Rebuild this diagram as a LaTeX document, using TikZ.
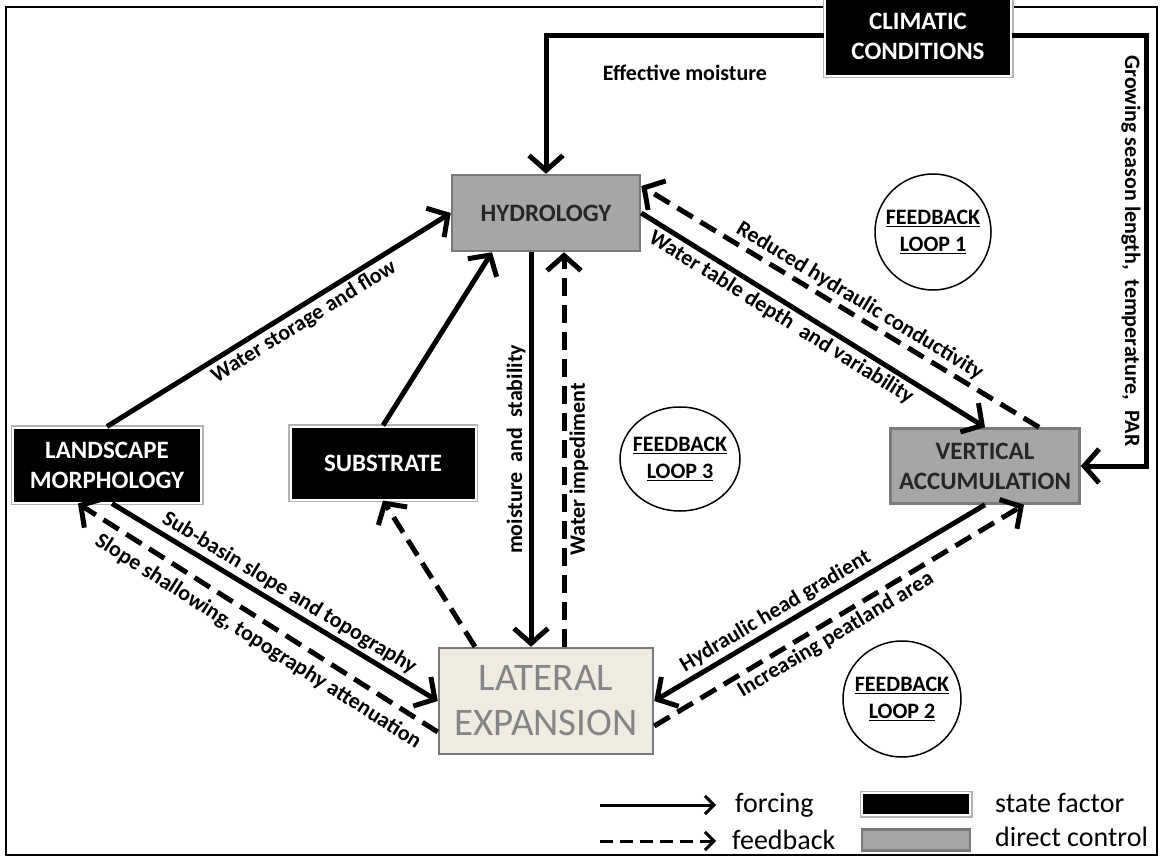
\documentclass[tikz,border=0pt]{standalone}
\usepackage{fontspec}
\setmainfont{Carlito}
\usepackage{xcolor}
\definecolor{ctrlgray}{HTML}{A6A6A6}
\definecolor{edgegray}{HTML}{7A7A7A}
\definecolor{latfill}{HTML}{EEECE1}
\definecolor{lattext}{HTML}{858585}
\usetikzlibrary{arrows.meta, positioning, calc}

\begin{document}
\begin{tikzpicture}[
    x=1pt, y=-1pt,
    >={Straight Barb[length=15pt, width=34pt]},
    lbl/.style={font=\fontsize{22}{26}\selectfont\bfseries, inner sep=3pt},
    statebox/.style={fill=black, draw=white, line width=2pt, text=white, align=center, inner sep=0pt,
                     font=\fontsize{25}{30}\selectfont\bfseries, preaction={draw=black!30, line width=5pt}},
    ctrlbox/.style={fill=ctrlgray, draw=edgegray, line width=2.5pt, text=black!85, align=center, inner sep=0pt,
                    font=\fontsize{25}{30}\selectfont\bfseries},
    latbox/.style={fill=latfill, draw=edgegray, line width=2.5pt, text=lattext, align=center, inner sep=0pt,
                   font=\fontsize{39}{45}\selectfont},
    looptxt/.style={align=center, inner sep=0pt, font=\fontsize{22}{27}\selectfont\bfseries},
    loopring/.style={draw, line width=1.5pt},
    forcing/.style={->, line width=5pt},
    feedback/.style={->, line width=5pt, dash pattern=on 18pt off 9pt},
    legtxt/.style={inner sep=0pt, anchor=west, font=\fontsize{28}{32}\selectfont},
    legarrow/.style={-{Straight Barb[length=9pt, width=18pt]}, line width=3pt}
]
\useasboundingbox (0,0) rectangle (1160,856);

% ── Frame ──
\draw[line width=2pt] (6,7) rectangle (1157,855);

% ── Boxes ──
\node[statebox, minimum width=186pt, minimum height=80pt] (clim) at (918,36) {CLIMATIC\\CONDITIONS};
\node[ctrlbox, minimum width=188pt, minimum height=76pt] (hyd) at (546,213) {HYDROLOGY};
\node[statebox, minimum width=188pt, minimum height=75pt] (land) at (107,465) {LANDSCAPE\\MORPHOLOGY};
\node[statebox, minimum width=185pt, minimum height=73pt] (sub) at (383,463) {SUBSTRATE};
\node[ctrlbox, minimum width=189pt, minimum height=75pt] (va) at (985,466) {VERTICAL\\ACCUMULATION};
\node[latbox, minimum width=214pt, minimum height=106pt] (lat) at (546,701) {LATERAL\\EXPANSION};

% ── Feedback loops ──
\node[looptxt] (loop1) at (933,232) {\underline{FEEDBACK}\\\underline{LOOP 1}};
\draw[loopring] (loop1.center) ellipse [x radius=58, y radius=58];
\node[looptxt] (loop3) at (680,459) {\underline{FEEDBACK}\\\underline{LOOP 3}};
\draw[loopring] (loop3.center) ellipse [x radius=60, y radius=52];
\node[looptxt] (loop2) at (902,699) {\underline{FEEDBACK}\\\underline{LOOP 2}};
\draw[loopring] (loop2.center) ellipse [x radius=59, y radius=58];

% ── Climate forcing ──
\draw[forcing] (clim.west) -| node[lbl, pos=0.25, below=24pt] {Effective moisture} (hyd.north);
\draw[forcing] (clim.east) -- ++(134,0) |- node[lbl, pos=0.25, rotate=-90, anchor=north] {Growing season length,\ \ temperature,\ \ PAR} (va.east);

% ── Arrows ──
\draw[forcing] (land.north) -- node[lbl, sloped, below, pos=0.55] {Water storage and flow} (hyd.west);
\draw[forcing] (sub.north) -- ([xshift=-54pt]hyd.south);
\draw[forcing] ([xshift=-15pt]hyd.south) -- node[lbl, rotate=90, anchor=south, pos=0.5] {moisture\ \ and\ \ stability} ([xshift=-15pt]lat.north);
\draw[feedback] ([xshift=18pt]lat.north) -- node[lbl, rotate=90, anchor=north, pos=0.45] {Water impediment} ([xshift=18pt]hyd.south);
\draw[forcing] (hyd.east) -- node[lbl, sloped, below, pos=0.43] {Water table depth\ \ and variability} (va.north);
\draw[feedback] ([xshift=54pt]va.north) -- node[lbl, sloped, above, pos=0.47] {Reduced hydraulic conductivity} ([yshift=27pt]hyd.east);
\draw[forcing] ([xshift=5pt]land.south) -- node[lbl, sloped, above, pos=0.52] {Sub-basin slope and topography} (lat.west);
\draw[feedback] ([yshift=-31pt]lat.west) -- node[lbl, sloped, below=5pt, pos=0.47] {Slope shallowing, topography attenuation} ([xshift=-29pt]land.south);
\draw[feedback] ([xshift=-71pt]lat.north) -- (sub.south);
\draw[forcing] (va.south) -- node[lbl, sloped, above, pos=0.61] {Hydraulic head gradient} (lat.east);
\draw[feedback] ([yshift=-25pt]lat.east) -- node[lbl, sloped, below, pos=0.47] {Increasing peatland area} ([xshift=39pt]va.south);

% ── Legend ──
\node[legtxt] (lg_forcing) at (735,805) {forcing};
\node[legtxt] (lg_feedback) at (732,840) {feedback};
\coordinate (lg_f0) at (600,805);
\coordinate (lg_b0) at (600,841);
\draw[legarrow] (lg_f0) -- ([xshift=-19pt]lg_f0 -| lg_forcing.west);
\draw[legarrow, dash pattern=on 13pt off 7pt] (lg_b0) -- ([xshift=-16pt]lg_b0 -| lg_feedback.west);
\node[statebox, minimum width=108pt, minimum height=22pt] (lg_state) at (916,804) {};
\node[ctrlbox, minimum width=108pt, minimum height=21pt] (lg_ctrl) at (916,840) {};
\node[legtxt] (lg_statetxt) at (995,803) {state factor};
\node[legtxt] (lg_ctrltxt) at (995,837) {direct control};
\end{tikzpicture}
\end{document}
